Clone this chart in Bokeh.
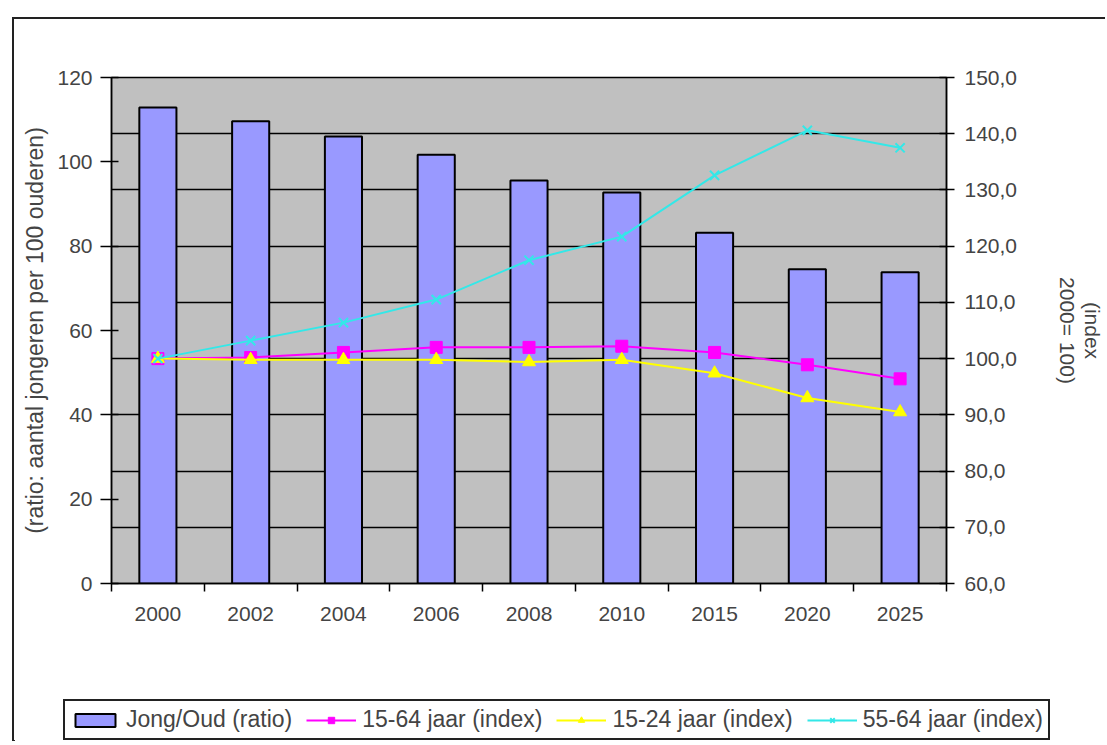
from bokeh.plotting import figure
from bokeh.models import (Range1d, LinearAxis, FixedTicker, Grid, Legend, LegendItem,
                          CustomJSTickFormatter, ColumnDataSource)
from bokeh.embed import file_html
from bokeh.resources import INLINE

# ---- data ----
years = ["2000", "2002", "2004", "2006", "2008", "2010", "2015", "2020", "2025"]
jong_oud = [112.9, 109.6, 106.0, 101.7, 95.6, 92.7, 83.2, 74.5, 73.8]
idx_15_64 = [100.0, 100.2, 101.1, 102.0, 102.0, 102.2, 101.1, 98.9, 96.4]
idx_15_24 = [100.0, 99.8, 99.8, 99.8, 99.4, 99.8, 97.4, 93.0, 90.5]
idx_55_64 = [100.0, 103.2, 106.4, 110.5, 117.5, 121.7, 132.6, 140.6, 137.5]
left_ticks = [0, 20, 40, 60, 80, 100, 120]
right_ticks = [60, 70, 80, 90, 100, 110, 120, 130, 140, 150]
series_names = ["Jong/Oud (ratio)", "15-64 jaar (index)", "15-24 jaar (index)", "55-64 jaar (index)"]

xpos = [i + 0.5 for i in range(len(years))]
data = dict(x=xpos, year=years, ratio=jong_oud, a=idx_15_64, b=idx_15_24, c=idx_55_64)
src = ColumnDataSource(data=dict(data))

FONT = "Liberation Sans"
BAR = "#9999FF"
MAG = "#FF00FF"
YEL = "#FFFF00"
CYA = "#33E8E8"
BORDER = "2px solid #222"

p = figure(width=1093, height=640, output_backend="svg", toolbar_location=None,
           x_range=Range1d(0, len(years)), y_range=Range1d(0, 120),
           min_border_left=97, min_border_top=58, min_border_right=159,
           min_border_bottom=76)
p.styles = {"border-left": BORDER, "border-top": BORDER,
            "margin-left": "12px", "margin-top": "17px"}
p.extra_y_ranges = {"right": Range1d(60, 150)}
p.background_fill_color = "#C0C0C0"
p.outline_line_color = "black"
p.outline_line_width = 1.5
p.xgrid.visible = False
p.ygrid.visible = False

grid = Grid(dimension=1, y_range_name="right", ticker=FixedTicker(ticks=right_ticks),
            grid_line_color="black", grid_line_width=1.5)
p.add_layout(grid)

# bars
p.vbar(x="x", top="ratio", width=0.4, source=src, fill_color=BAR,
       line_color="black", line_width=2)

# lines
p.line("x", "a", source=src, y_range_name="right", line_color=MAG, line_width=2)
p.scatter("x", "a", source=src, y_range_name="right", marker="square", size=12,
          fill_color=MAG, line_color=MAG)
p.line("x", "b", source=src, y_range_name="right", line_color=YEL, line_width=2)
p.scatter("x", "b", source=src, y_range_name="right", marker="triangle", size=13,
          fill_color=YEL, line_color=YEL)
p.line("x", "c", source=src, y_range_name="right", line_color=CYA, line_width=2)
p.scatter("x", "c", source=src, y_range_name="right", marker="x", size=13,
          line_color=CYA, line_width=2)

# left axis
ya = p.yaxis[0]
ya.ticker = FixedTicker(ticks=left_ticks)
ya.axis_label = "(ratio: aantal jongeren per 100 ouderen)"
ya.axis_label_text_font = FONT
ya.axis_label_text_font_style = "normal"
ya.axis_label_text_font_size = "23px"
ya.axis_label_standoff = 6
ya.major_label_text_font = FONT
ya.major_label_text_font_size = "21px"
ya.major_label_standoff = 8
ya.major_tick_in = 7
ya.major_tick_out = 11
ya.minor_tick_in = 0
ya.minor_tick_out = 0
ya.axis_line_width = 1.5
ya.major_tick_line_width = 1.5

# right axis
ra = LinearAxis(y_range_name="right", ticker=FixedTicker(ticks=right_ticks),
                formatter=CustomJSTickFormatter(code="return tick.toFixed(1).replace('.', ',');"))
ra.axis_label = "(index\n2000= 100)"
ra.axis_label_text_font = FONT
ra.axis_label_text_font_style = "normal"
ra.axis_label_text_font_size = "21px"
ra.axis_label_text_line_height = 1.1
ra.axis_label_standoff = 36
ra.major_label_text_font = FONT
ra.major_label_text_font_size = "21px"
ra.major_label_standoff = 10
ra.major_tick_in = 7
ra.major_tick_out = 8
ra.minor_tick_in = 0
ra.minor_tick_out = 0
ra.axis_line_width = 1.5
ra.major_tick_line_width = 1.5
p.add_layout(ra, "right")

# x axis
xa = p.xaxis[0]
xa.ticker = FixedTicker(ticks=xpos, minor_ticks=list(range(len(years) + 1)))
xa.major_label_overrides = {x: y for x, y in zip(xpos, years)}
xa.major_tick_in = 0
xa.major_tick_out = 0
xa.minor_tick_in = 0
xa.minor_tick_out = 8
xa.minor_tick_line_width = 1.5
xa.axis_line_width = 1.5
xa.major_label_standoff = 15
xa.major_label_text_font = FONT
xa.major_label_text_font_size = "21px"

# ---- legend strip (second root below the chart; its data lies outside its ranges) ----
src2 = ColumnDataSource(data=dict(data))
q = figure(width=1093, height=84, output_backend="svg", toolbar_location=None,
           x_range=Range1d(100, 101), y_range=Range1d(1000, 1001),
           min_border_left=0, min_border_right=0, min_border_top=0, min_border_bottom=0)
q.styles = {"border-left": BORDER, "margin-left": "12px"}
q.axis.visible = False
q.grid.visible = False
q.outline_line_color = None
q.background_fill_color = "white"
g0 = q.vbar(x="x", top="ratio", width=0.4, source=src2, fill_color=BAR,
            line_color="black", line_width=2)
g1 = q.line("x", "a", source=src2, line_color=MAG, line_width=2)
m1 = q.scatter("x", "a", source=src2, marker="square", size=9, fill_color=MAG, line_color=MAG)
g2 = q.line("x", "b", source=src2, line_color=YEL, line_width=2)
m2 = q.scatter("x", "b", source=src2, marker="triangle", size=10, fill_color=YEL, line_color=YEL)
g3 = q.line("x", "c", source=src2, line_color=CYA, line_width=2)
m3 = q.scatter("x", "c", source=src2, marker="x", size=10, line_color=CYA, line_width=2)

legend = Legend(items=[
    LegendItem(label=series_names[0], renderers=[g0]),
    LegendItem(label=series_names[1], renderers=[g1, m1]),
    LegendItem(label=series_names[2], renderers=[g2, m2]),
    LegendItem(label=series_names[3], renderers=[g3, m3]),
], orientation="horizontal", location=(49, 1))
legend.label_text_font = FONT
legend.label_text_font_size = "23px"
legend.border_line_color = "#222"
legend.border_line_alpha = 1.0
legend.border_line_width = 2
legend.background_fill_alpha = 1.0
legend.padding = 5
legend.spacing = 14
legend.margin = 0
legend.glyph_width = 50
legend.glyph_height = 16
legend.label_standoff = 6
q.add_layout(legend)

open("out.html", "w").write(file_html([p, q], INLINE))
